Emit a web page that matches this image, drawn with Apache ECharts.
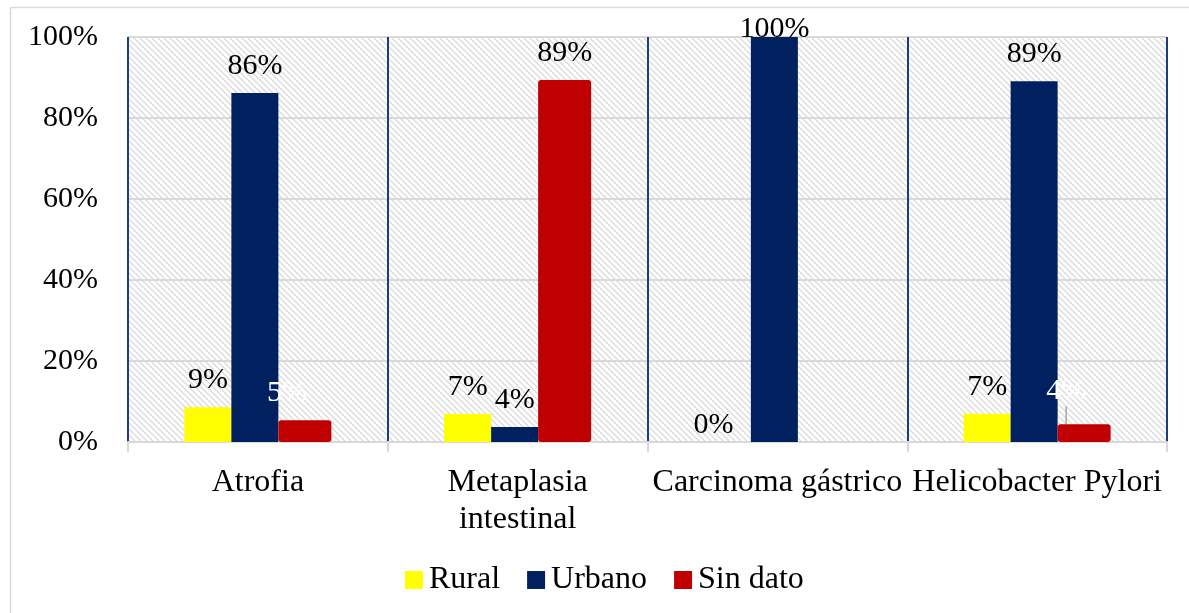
<!DOCTYPE html>
<html>
<head>
<meta charset="utf-8">
<script src="https://cdn.jsdelivr.net/npm/echarts@6/dist/echarts.min.js"></script>
<style>html,body{margin:0;padding:0;background:#fff}#c{width:1189px;height:613px}</style>
</head>
<body>
<div id="c"></div>
<script>
const categories = ['Atrofia', 'Metaplasia\nintestinal', 'Carcinoma gástrico', 'Helicobacter Pylori'];
const seriesNames = ['Rural', 'Urbano', 'Sin dato'];
const rural = [8.6, 6.9, 0, 7.0];
const urbano = [86.2, 3.7, 100, 89.1];
const sinDato = [5.4, 89.4, 0, 4.4];
const yTicks = [0, 20, 40, 60, 80, 100];

const FONT = "'Times New Roman', 'Liberation Serif', serif";
const colors = ['#FFFF00', '#002060', '#C00000'];

// hatch pattern for plot background
const tile = document.createElement('canvas');
tile.width = 6; tile.height = 6;
const tc = tile.getContext('2d');
tc.fillStyle = '#ffffff'; tc.fillRect(0, 0, 6, 6);
tc.strokeStyle = '#dcdcdc'; tc.lineWidth = 1.4;
tc.beginPath();
tc.moveTo(-1, -1); tc.lineTo(7, 7);
tc.moveTo(-7, -1); tc.lineTo(1, 7);
tc.moveTo(5, -1); tc.lineTo(13, 7);
tc.stroke();

const chart = echarts.init(document.getElementById('c'));

const labelBase = {
  show: true, position: 'top', distance: 12,
  fontFamily: FONT, fontSize: 30, color: '#000',
  formatter: p => Math.round(p.value) + '%'
};

function items(vals, sIdx) {
  return vals.map((v, i) => {
    const it = { value: v };
    if (sIdx === 0 && v === 0) it.label = { offset: [-14, 10] };
    if (sIdx === 1 && v === 100) it.label = { offset: [0, 19] };
    if (sIdx === 2) {
      if (v === 0) { it.label = { show: false }; }
      if (i === 0) it.label = { color: '#ffffff' };
      if (i === 3) { it.label = { color: '#ffffff' }; it.labelLine = { show: true, lineStyle: { color: '#a6a6a6', width: 1.5 } }; }
    }
    return it;
  });
}

const option = {
  animation: false,
  backgroundColor: '#fff',
  textStyle: { fontFamily: FONT },
  graphic: [{
    type: 'rect', left: 8, top: 5, shape: { width: 1200, height: 620 },
    style: { fill: 'none', stroke: '#d9d9d9', lineWidth: 1.5 }, z: -10, silent: true
  }],
  grid: {
    left: 128, top: 37, right: 22, bottom: 171, show: true,
    backgroundColor: { image: tile, repeat: 'repeat' }, borderWidth: 0
  },
  legend: {
    data: seriesNames, left: 405, top: 564, padding: 0,
    itemWidth: 18, itemHeight: 18, itemGap: 27,
    textStyle: { fontFamily: FONT, fontSize: 32, color: '#000', padding: [0, 0, 0, 1] },
    icon: 'rect'
  },
  xAxis: {
    type: 'category', data: categories,
    axisLine: { lineStyle: { color: '#d9d9d9', width: 2 } },
    axisTick: { show: true, length: 10, lineStyle: { color: '#d9d9d9', width: 2 } },
    splitLine: { show: true, lineStyle: { color: '#1F3D7A', width: 2 } },
    axisLabel: { fontFamily: FONT, fontSize: 32, color: '#000', margin: 22, lineHeight: 37, interval: 0 }
  },
  yAxis: {
    type: 'value', min: 0, max: 100, interval: 20,
    axisLine: { show: false }, axisTick: { show: false },
    splitLine: { lineStyle: { color: '#d9d9d9', width: 2 } },
    axisLabel: { fontFamily: FONT, fontSize: 30, color: '#000', margin: 30,
      formatter: v => (yTicks.indexOf(v) >= 0 ? v + '%' : '') }
  },
  series: [
    { name: seriesNames[0], type: 'bar', data: items(rural, 0), barWidth: 47, barGap: '0%',
      itemStyle: { color: colors[0] }, label: labelBase },
    { name: seriesNames[1], type: 'bar', data: items(urbano, 1), barWidth: 47, barGap: '0%',
      itemStyle: { color: colors[1] }, label: labelBase },
    { name: seriesNames[2], type: 'bar', data: items(sinDato, 2), barWidth: 53, barGap: '0%',
      itemStyle: { color: colors[2], borderRadius: 3 },
      label: labelBase,
      labelLayout: p => {
        if (p.dataIndex === 0) return { dx: -18, dy: 0 };
        if (p.dataIndex === 3) return { dx: -18, dy: -6 };
        return {};
      },
      labelLine: { show: false }
    }
  ]
};
chart.setOption(option);
</script>
</body>
</html>
